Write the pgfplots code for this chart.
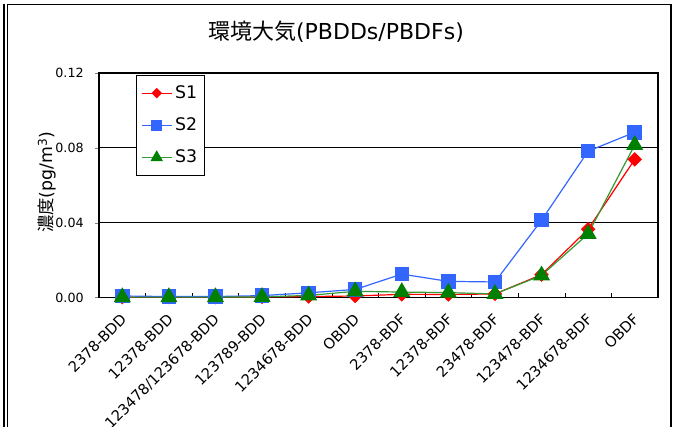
\documentclass[border=0pt]{standalone}
\usepackage{fontspec}
\setmainfont{DejaVu Sans}
\newfontfamily\jp{Noto Sans CJK JP}
\usepackage{pgfplots}
\pgfplotsset{compat=1.18}
\definecolor{sred}{RGB}{255,0,0}
\definecolor{sblue}{RGB}{51,102,255}
\definecolor{sgreen}{RGB}{0,128,0}
\definecolor{sgreenline}{RGB}{51,153,51}
\begin{document}
\begin{tikzpicture}[x=0.75pt,y=0.75pt]
\useasboundingbox (0,0) rectangle (676,427);
\clip (0,0) rectangle (676,427);
\fill[white] (0,0) rectangle (676,427);
\draw[line width=1.1pt] (4,0) -- (4,423);
\draw[line width=0.9pt] (7.5,-5) -- (7.5,422.5) -- (671,422.5) -- (671,-5);
\node[font=\fontsize{16.5}{19}\selectfont] at (336,395) {{\jp 環境大気}(PBDDs/PBDFs)};
\begin{axis}[
  at={(74.25pt,97.125pt)}, anchor=south west,
  scale only axis, width=419.25pt, height=168.4pt,
  xmin=-0.5, xmax=11.5, ymin=0, ymax=0.12,
  xtick={0,...,11},
  xticklabels={2378-BDD,12378-BDD,123478/123678-BDD,123789-BDD,1234678-BDD,OBDD,2378-BDF,12378-BDF,23478-BDF,123478-BDF,1234678-BDF,OBDF},
  major x tick style={draw=none},
  minor xtick={0.5,1.5,...,10.5},
  minor x tick style={draw=black, thin},
  minor tick length=3pt,
  xtick align=inside, xtick pos=bottom,
  ytick={0,0.04,0.08,0.12}, ytick align=outside, ytick pos=left,
  major tick length=3pt,
  y tick label style={/pgf/number format/fixed,/pgf/number format/precision=2,/pgf/number format/fixed zerofill},
  /pgf/number format/assume math mode=true,
  scaled y ticks=false,
  ymajorgrids, grid style={black, line width=0.75pt},
  axis line style={black, line width=1pt},
  yticklabel style={font=\fontsize{9.5}{11}\selectfont, xshift=-5pt},
  xticklabel style={font=\fontsize{11}{13}\selectfont, rotate=45, anchor=east, xshift=-6pt, yshift=-11pt},
  ylabel={{\jp 濃度}(pg/m\textsuperscript{3})},
  ylabel style={at={(axis description cs:-0.093,0.514)}, anchor=center, font=\fontsize{13}{15}\selectfont},
  legend style={at={(axis description cs:0.0662,0.992)}, anchor=north west, draw=black, fill=white,
    font=\fontsize{13}{15}\selectfont, row sep=9pt, inner xsep=3.5pt, inner ysep=6pt},
  legend cell align=left,
  legend image code/.code={\draw[mark repeat=2,mark phase=2,#1,every mark/.append style={scale=0.7}] plot coordinates {(0cm,0cm) (0.4cm,0cm) (0.8cm,0cm)};},
]
\addplot[color=sred, line width=0.9pt, mark=diamond*, mark size=4.8pt, mark options={xscale=1.33, fill=sred, draw=sred}]
 coordinates {(0,0.0002) (1,0.0002) (2,0.0002) (3,0.0003) (4,0.0005) (5,0.0008) (6,0.0017) (7,0.0016) (8,0.0019) (9,0.0122) (10,0.0365) (11,0.0738)};
\addlegendentry{S1}
\addplot[color=sblue, line width=0.9pt, mark=square*, mark size=5pt, mark options={fill=sblue, draw=sblue}]
 coordinates {(0,0.0008) (1,0.0005) (2,0.0005) (3,0.0010) (4,0.0025) (5,0.0043) (6,0.0125) (7,0.0086) (8,0.0083) (9,0.0413) (10,0.0782) (11,0.0883)};
\addlegendentry{S2}
\addplot[color=sgreenline, line width=0.9pt, mark=triangle*, mark size=6.5pt, mark options={fill=sgreen, draw=sgreen}]
 coordinates {(0,0.0002) (1,0.0002) (2,0.0002) (3,0.0003) (4,0.0011) (5,0.0033) (6,0.0029) (7,0.0026) (8,0.0019) (9,0.0118) (10,0.0340) (11,0.0815)};
\addlegendentry{S3}
\end{axis}
\end{tikzpicture}
\end{document}
